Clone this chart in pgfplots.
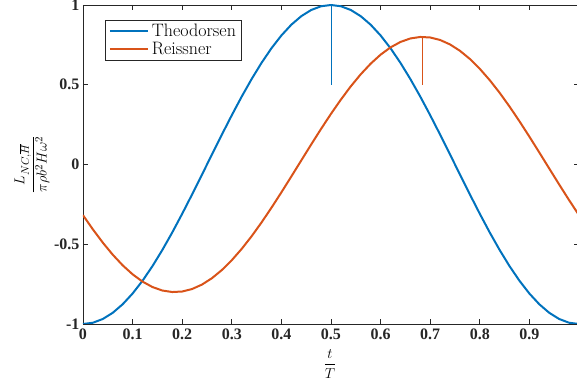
\documentclass[border=0pt]{standalone}
\usepackage{pgfplots}
\pgfplotsset{compat=1.18}
\usepackage{amsmath}
\usepackage{fontspec}
\newfontfamily\timesfont{Liberation Serif}
\definecolor{mblue}{RGB}{0,114,189}
\definecolor{morange}{RGB}{217,83,25}
\definecolor{axgray}{RGB}{38,38,38}
\begin{document}
\begin{tikzpicture}
\begin{axis}[
  scale only axis,
  width=496pt, height=319pt,
  xmin=0, xmax=1, ymin=-1, ymax=1,
  axis line style={axgray, line width=0.9pt},
  tick style={axgray, line width=0.8pt},
  major tick length=5pt,
  tick align=inside,
  xtick={0,0.1,0.2,0.3,0.4,0.5,0.6,0.7,0.8,0.9},
  xticklabels={0,0.1,0.2,0.3,0.4,0.5,0.6,0.7,0.8,0.9},
  extra x ticks={1},
  extra x tick labels={},
  ytick={-1,-0.5,0,0.5,1},
  yticklabels={-1,-0.5,0,0.5,1},
  ticklabel style={font=\fontsize{16}{19}\selectfont\timesfont\bfseries, text=axgray},
  xticklabel style={yshift=-1pt},
  xlabel={$\displaystyle\frac{t}{T}$},
  ylabel={$\displaystyle\frac{L_{NC,\overline{H}}}{\pi\rho b^2 H\omega^2}$},
  label style={font=\fontsize{15}{18}\selectfont},
  xlabel style={at={(axis description cs:0.498,-0.125)}, anchor=center},
  ylabel style={at={(axis description cs:-0.103,0.5)}, anchor=center},
  legend style={at={(axis description cs:0.045,0.953)}, anchor=north west,
    draw=axgray, line width=0.8pt, font=\fontsize{18}{20}\selectfont,
    inner xsep=3pt, inner ysep=2pt, row sep=0pt, column sep=1pt},
  legend cell align=left,
  legend image code/.code={\draw[#1, line width=2.2pt] (0pt,0pt) -- (38pt,0pt);},
]
\addplot[mblue, line width=2pt] coordinates {
(0.00,-1.00000)(0.02,-0.99211)(0.04,-0.96858)(0.06,-0.92978)(0.08,-0.87631)
(0.10,-0.80902)(0.12,-0.72897)(0.14,-0.63742)(0.16,-0.53583)(0.18,-0.42578)
(0.20,-0.30902)(0.22,-0.18738)(0.24,-0.06279)(0.26,0.06279)(0.28,0.18738)
(0.30,0.30902)(0.32,0.42578)(0.34,0.53583)(0.36,0.63742)(0.38,0.72897)
(0.40,0.80902)(0.42,0.87631)(0.44,0.92978)(0.46,0.96858)(0.48,0.99211)
(0.50,1.00000)(0.52,0.99211)(0.54,0.96858)(0.56,0.92978)(0.58,0.87631)
(0.60,0.80902)(0.62,0.72897)(0.64,0.63742)(0.66,0.53583)(0.68,0.42578)
(0.70,0.30902)(0.72,0.18738)(0.74,0.06279)(0.76,-0.06279)(0.78,-0.18738)
(0.80,-0.30902)(0.82,-0.42578)(0.84,-0.53583)(0.86,-0.63742)(0.88,-0.72897)
(0.90,-0.80902)(0.92,-0.87631)(0.94,-0.92978)(0.96,-0.96858)(0.98,-0.99211)
(1.00,-1.00000)};
\addlegendentry{Theodorsen}
\addplot[morange, line width=2pt] coordinates {
(0.00,-0.3177)(0.02,-0.4072)(0.04,-0.4903)(0.06,-0.5657)(0.08,-0.6321)
(0.10,-0.6886)(0.12,-0.7342)(0.14,-0.7682)(0.16,-0.7902)(0.18,-0.7996)
(0.20,-0.7964)(0.22,-0.7807)(0.24,-0.7527)(0.26,-0.7128)(0.28,-0.6617)
(0.30,-0.6001)(0.32,-0.5290)(0.34,-0.4497)(0.36,-0.3632)(0.38,-0.2710)
(0.40,-0.1745)(0.42,-0.0753)(0.44,0.0251)(0.46,0.1251)(0.48,0.2232)
(0.50,0.3177)(0.52,0.4072)(0.54,0.4903)(0.56,0.5657)(0.58,0.6321)
(0.60,0.6886)(0.62,0.7342)(0.64,0.7682)(0.66,0.7902)(0.68,0.7996)
(0.70,0.7964)(0.72,0.7807)(0.74,0.7527)(0.76,0.7128)(0.78,0.6617)
(0.80,0.6001)(0.82,0.5290)(0.84,0.4497)(0.86,0.3632)(0.88,0.2710)
(0.90,0.1745)(0.92,0.0753)(0.94,-0.0251)(0.96,-0.1251)(0.98,-0.2232)
(1.00,-0.3177)};
\addlegendentry{Reissner}
\addplot[mblue, line width=0.8pt, forget plot] coordinates {(0.5,0.5)(0.5,1)};
\addplot[morange, line width=0.8pt, forget plot] coordinates {(0.685,0.5)(0.685,0.8)};
\coordinate (ll) at (rel axis cs:0,0);
\coordinate (ur) at (rel axis cs:0.996,1);
\end{axis}
\pgfresetboundingbox
\path[use as bounding box] ([xshift=-83pt,yshift=-61pt]ll) rectangle ([yshift=5pt]ur);
\end{tikzpicture}
\end{document}
